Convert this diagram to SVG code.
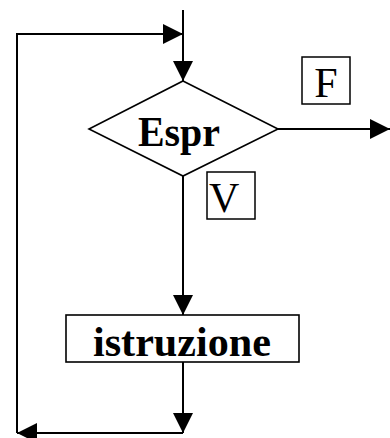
<svg xmlns="http://www.w3.org/2000/svg" width="390" height="438" viewBox="0 0 390 438">
<style>
.ln{stroke:#000;stroke-width:2;fill:none}
.sh{stroke:#000;stroke-width:1.6;fill:#fff}
.bt{font-family:"Liberation Serif","Times New Roman",serif;font-weight:bold;font-size:43px;fill:#000}
.rt{font-family:"Liberation Serif","Times New Roman",serif;font-size:42px;fill:#000}
.lb{stroke:#000;stroke-width:1.5;fill:#fff}
</style>
<defs>
<marker id="ah" viewBox="0 0 20 20" refX="20" refY="10" markerWidth="20" markerHeight="20" markerUnits="userSpaceOnUse" orient="auto">
<path d="M0,0 L20,10 L0,20 Z" fill="#000"/>
</marker>
</defs>
<g id="connectors">
<path class="ln" d="M183,10 L183,81" marker-end="url(#ah)"/>
<path class="ln" d="M17,433 L17,34 L183,34" marker-end="url(#ah)"/>
<path class="ln" d="M278,129 L390,129" marker-end="url(#ah)"/>
<path class="ln" d="M183,176 L183,315" marker-end="url(#ah)"/>
<path class="ln" d="M183,362 L183,433" marker-end="url(#ah)"/>
<path class="ln" d="M183,433 L17,433" marker-end="url(#ah)"/>
</g>
<g id="espr">
<polygon class="sh" points="183,81 278,129 183,176 89,129"/>
<text class="bt" x="138" y="146" textLength="82" lengthAdjust="spacingAndGlyphs">Espr</text>
</g>
<g id="label-f">
<rect class="lb" x="302" y="57" width="48" height="47"/>
<text class="rt" x="326" y="97" text-anchor="middle">F</text>
</g>
<g id="label-v">
<rect class="lb" x="207" y="172" width="48" height="47"/>
<text class="rt" x="209" y="212">V</text>
</g>
<g id="istruzione">
<rect class="sh" x="66" y="315" width="233" height="47"/>
<text class="bt" x="93" y="356" textLength="178" lengthAdjust="spacingAndGlyphs">istruzione</text>
</g>
</svg>
